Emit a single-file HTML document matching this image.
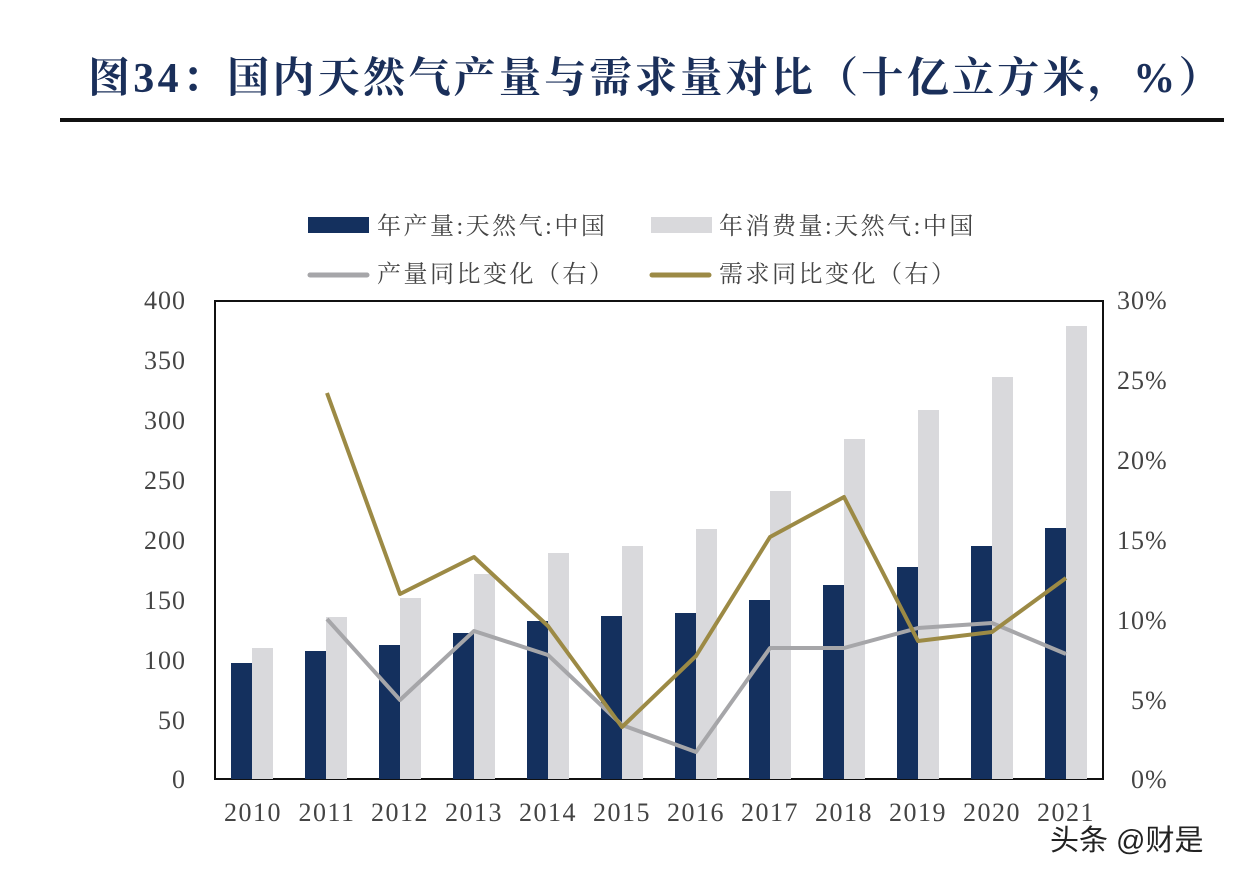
<!DOCTYPE html>
<html><head><meta charset="utf-8"><style>
body{margin:0;background:#fff;}
svg{display:block}
</style></head><body>
<svg width="1242" height="882" viewBox="0 0 1242 882" xmlns="http://www.w3.org/2000/svg">
<rect width="1242" height="882" fill="#fff"/>
<text x="88" y="92" font-family="'Liberation Serif','Noto Serif CJK SC',serif" font-weight="bold" font-size="42" letter-spacing="3.3" fill="#1a2f5a">图34：国内天然气产量与需求量对比（十亿立方米，%）</text>
<rect x="60" y="118" width="1164" height="4" fill="#111"/>
<g font-family="'Liberation Serif','Noto Serif CJK SC',serif" font-size="24" fill="#444" letter-spacing="2.5">
<rect x="308" y="217" width="61" height="16" fill="#14305e"/>
<text x="377" y="234">年产量:天然气:中国</text>
<rect x="651" y="217" width="61" height="16" fill="#d9d9dc"/>
<text x="719" y="234">年消费量:天然气:中国</text>
<line x1="310" y1="275" x2="367" y2="275" stroke="#a6a6a9" stroke-width="5" stroke-linecap="round"/>
<text x="377" y="282">产量同比变化（右）</text>
<line x1="652" y1="275" x2="709" y2="275" stroke="#9c8a45" stroke-width="5" stroke-linecap="round"/>
<text x="719" y="282">需求同比变化（右）</text>
</g>
<rect x="215" y="301" width="888" height="478" fill="none" stroke="#111" stroke-width="2"/>
<g fill="#14305e">
<rect x="231" y="663" width="21" height="116"/><rect x="305" y="651" width="21" height="128"/><rect x="379" y="645" width="21" height="134"/><rect x="453" y="633" width="21" height="146"/><rect x="527" y="621" width="21" height="158"/><rect x="601" y="616" width="21" height="163"/><rect x="675" y="613" width="21" height="166"/><rect x="749" y="600" width="21" height="179"/><rect x="823" y="585" width="21" height="194"/><rect x="897" y="567" width="21" height="212"/><rect x="971" y="546" width="21" height="233"/><rect x="1045" y="528" width="21" height="251"/>
</g>
<g fill="#d9d9dc">
<rect x="252" y="648" width="21" height="131"/><rect x="326" y="617" width="21" height="162"/><rect x="400" y="598" width="21" height="181"/><rect x="474" y="574" width="21" height="205"/><rect x="548" y="553" width="21" height="226"/><rect x="622" y="546" width="21" height="233"/><rect x="696" y="529" width="21" height="250"/><rect x="770" y="491" width="21" height="288"/><rect x="844" y="439" width="21" height="340"/><rect x="918" y="410" width="21" height="369"/><rect x="992" y="377" width="21" height="402"/><rect x="1066" y="326" width="21" height="453"/>
</g>
<polyline fill="none" stroke="#a6a6a9" stroke-width="4" stroke-linejoin="round" points="327,619 400,700 474,631 548,655 622,725 696,752 770,648 844,648 918,628 992,623 1066,654"/>
<polyline fill="none" stroke="#9c8a45" stroke-width="4" stroke-linejoin="round" points="327,393 400,594 474,557 548,626 622,727 696,656 770,537 844,497 918,641 992,632 1066,578"/>
<g font-family="'Liberation Serif',serif" font-size="26" fill="#444" text-anchor="end" letter-spacing="1">
<text x="186" y="309">400</text><text x="186" y="369">350</text><text x="186" y="429">300</text><text x="186" y="489">250</text><text x="186" y="549">200</text><text x="186" y="609">150</text><text x="186" y="669">100</text><text x="186" y="729">50</text><text x="186" y="788">0</text>
</g>
<g font-family="'Liberation Serif',serif" font-size="26" fill="#444" letter-spacing="1">
<text x="1117" y="309">30%</text><text x="1117" y="389">25%</text><text x="1117" y="469">20%</text><text x="1117" y="549">15%</text><text x="1117" y="629">10%</text><text x="1131" y="709">5%</text><text x="1131" y="788">0%</text>
</g>
<g font-family="'Liberation Serif',serif" font-size="26" fill="#444" text-anchor="middle" letter-spacing="1.5">
<text x="253" y="821">2010</text><text x="327" y="821">2011</text><text x="400" y="821">2012</text><text x="474" y="821">2013</text><text x="548" y="821">2014</text><text x="622" y="821">2015</text><text x="696" y="821">2016</text><text x="770" y="821">2017</text><text x="844" y="821">2018</text><text x="918" y="821">2019</text><text x="992" y="821">2020</text><text x="1066" y="821">2021</text>
</g>
<text x="1050" y="850" font-family="'Liberation Sans','Noto Sans CJK SC',sans-serif" font-size="29" fill="#222">头条 @财是</text>
</svg>
</body></html>
